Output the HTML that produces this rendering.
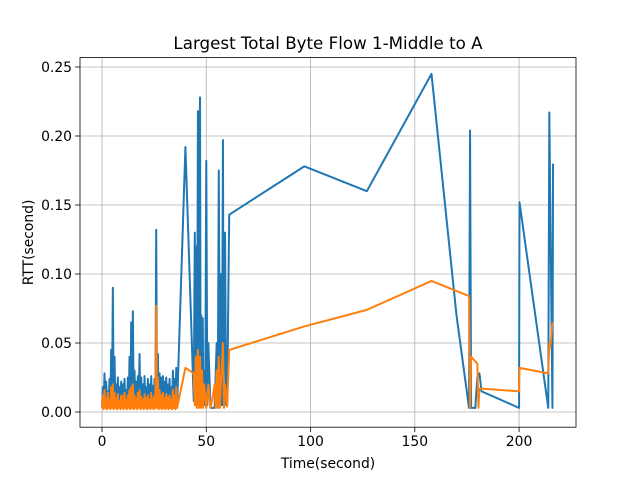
<!DOCTYPE html>
<html><head><meta charset="utf-8"><style>
body{margin:0;background:#fff;}
svg{display:block;font-family:"DejaVu Sans","Liberation Sans",sans-serif;}
</style></head><body>
<svg id="chart" width="640" height="480"></svg>
<script>
const xTicks=[0,50,100,150,200];
const yTicks=[0,0.05,0.10,0.15,0.20,0.25];
const yTickLabels=["0.00","0.05","0.10","0.15","0.20","0.25"];
const denseTimes=[0,0.4,0.8,1.2,1.6,2.0,2.4,2.8,3.2,3.6,4.0,4.4,4.8,5.2,5.6,6.0,6.4,6.8,7.2,7.6,8.0,8.4,8.8,9.2,9.6,10.0,10.4,10.8,11.2,11.6,12.0,12.4,12.8,13.2,13.6,14.0,14.4,14.8,15.2,15.6,16.0,16.4,16.8,17.2,17.6,18.0,18.4,18.8,19.2,19.6,20.0,20.4,20.8,21.2,21.6,22.0,22.4,22.8,23.2,23.6,24.0,24.4,24.8,25.2,25.6,26.0,26.4,26.8,27.2,27.6,28.0,28.4,28.8,29.2,29.6,30.0,30.4,30.8,31.2,31.6,32.0,32.4,32.8,33.2,33.6,34.0,34.4,34.8,35.2,35.6,36.0];
const denseBlue=[.004,.018,.003,.028,.004,.022,.003,.015,.004,.024,.003,.045,.004,.090,.003,.040,.004,.020,.003,.025,.004,.018,.003,.022,.004,.020,.003,.024,.004,.016,.003,.025,.004,.040,.003,.065,.004,.073,.003,.030,.004,.022,.003,.026,.004,.042,.003,.025,.004,.020,.003,.026,.004,.018,.003,.024,.004,.020,.003,.026,.004,.019,.003,.024,.004,.132,.003,.042,.004,.028,.003,.025,.004,.026,.003,.022,.004,.025,.003,.020,.004,.024,.003,.018,.004,.030,.003,.024,.004,.032,.004];
const denseOrange=[.003,.012,.002,.016,.003,.010,.002,.014,.003,.009,.002,.018,.003,.020,.002,.014,.003,.010,.002,.013,.003,.008,.002,.012,.003,.011,.002,.014,.003,.009,.002,.012,.003,.016,.002,.018,.003,.020,.002,.012,.003,.010,.002,.014,.003,.016,.002,.011,.003,.009,.002,.013,.003,.010,.002,.012,.003,.009,.002,.014,.003,.010,.002,.012,.003,.077,.003,.025,.002,.016,.003,.012,.002,.014,.003,.010,.002,.013,.003,.011,.002,.012,.003,.009,.002,.016,.003,.012,.002,.018,.003];
const blueTimes=[40,44,44.5,45,45.3,45.6,46,46.3,46.6,47,47.3,47.6,48,48.3,48.6,49,49.5,50,50.5,51,52,54,55,55.5,56,56.5,57,57.5,58,58.3,59,59.5,60,61,97,127,158,170,176,176.5,177,179,180,181,182,200,200.2,214,214.5,216,216.3];
const blueValues=[.192,.008,.13,.005,.12,.005,.218,.01,.15,.228,.005,.07,.005,.068,.005,.03,.005,.182,.005,.05,.003,.003,.05,.003,.175,.005,.1,.005,.197,.005,.13,.005,.005,.143,.178,.160,.245,.07,.003,.204,.003,.003,.025,.028,.015,.003,.152,.003,.217,.003,.180];
const orangeTimes=[40,44,44.5,45,45.5,46,46.5,47,47.5,48,48.5,49,50,51,52,53,54,54.5,55,55.5,56,56.5,57,58,58.5,59,60,61,97,127,158,176,176.3,176.5,177,180,180.5,181,200,200.2,214,214.5,215,216];
const orangeValues=[.032,.028,.005,.04,.003,.045,.003,.04,.003,.03,.003,.02,.003,.02,.003,.01,.02,.003,.03,.003,.04,.003,.02,.05,.003,.02,.004,.045,.062,.074,.095,.084,.036,.003,.04,.035,.003,.017,.015,.032,.028,.05,.047,.065];

const L=80,R=576,T=57.6,B=427.2,xmin=-10.55,xmax=227.3,ymin=-0.011,ymax=0.2568;
const X=v=>L+(v-xmin)/(xmax-xmin)*(R-L);
const Y=v=>B-(v-ymin)/(ymax-ymin)*(B-T);
const svg=document.getElementById('chart');const NS='http://www.w3.org/2000/svg';
function mk(tag,attrs,parent){const e=document.createElementNS(NS,tag);for(const k in attrs)e.setAttribute(k,attrs[k]);(parent||svg).appendChild(e);return e;}
xTicks.forEach(t=>{
 const g=mk('line',{x1:X(t),x2:X(t),y1:T,y2:B,stroke:'#b0b0b0','stroke-width':0.8});
 
 
 mk('line',{x1:X(t),x2:X(t),y1:B,y2:B+4.9,stroke:'#000','stroke-width':0.8});
 const tx=mk('text',{x:X(t),y:B+19,'text-anchor':'middle','font-size':'13.9px'});tx.textContent=t;
 
 
});
yTicks.forEach((t,i)=>{
 const g=mk('line',{x1:L,x2:R,y1:Y(t),y2:Y(t),stroke:'#b0b0b0','stroke-width':0.8});
 
 
 mk('line',{x1:L-4.9,x2:L,y1:Y(t),y2:Y(t),stroke:'#000','stroke-width':0.8});
 const tx=mk('text',{x:L-8,y:Y(t)+5,'text-anchor':'end','font-size':'13.9px'});tx.textContent=yTickLabels[i];
 
 
});
function path(ts,vs,color,name){
 let d='';ts.forEach((t,i)=>{d+=(i?'L':'M')+X(t).toFixed(2)+','+Y(vs[i]).toFixed(2);});
 const p=mk('path',{d:d,fill:'none',stroke:color,'stroke-width':2,'stroke-linejoin':'round'});
 
 
}
path(denseTimes.concat(blueTimes),denseBlue.concat(blueValues),'#1f77b4','rtt-series-blue');
path(denseTimes.concat(orangeTimes),denseOrange.concat(orangeValues),'#ff7f0e','rtt-series-orange');
const fr=mk('rect',{x:L,y:T,width:R-L,height:B-T,fill:'none',stroke:'#000','stroke-width':0.8});


const ti=mk('text',{x:(L+R)/2,y:49,'text-anchor':'middle','font-size':'16.7px'});ti.textContent='Largest Total Byte Flow 1-Middle to A';


const xl=mk('text',{x:(L+R)/2,y:468,'text-anchor':'middle','font-size':'13.9px'});xl.textContent='Time(second)';


const yl=mk('text',{x:0,y:0,'text-anchor':'middle','font-size':'13.9px',transform:'translate(33,'+((T+B)/2)+') rotate(-90)'});yl.textContent='RTT(second)';


</script>
</body></html>
